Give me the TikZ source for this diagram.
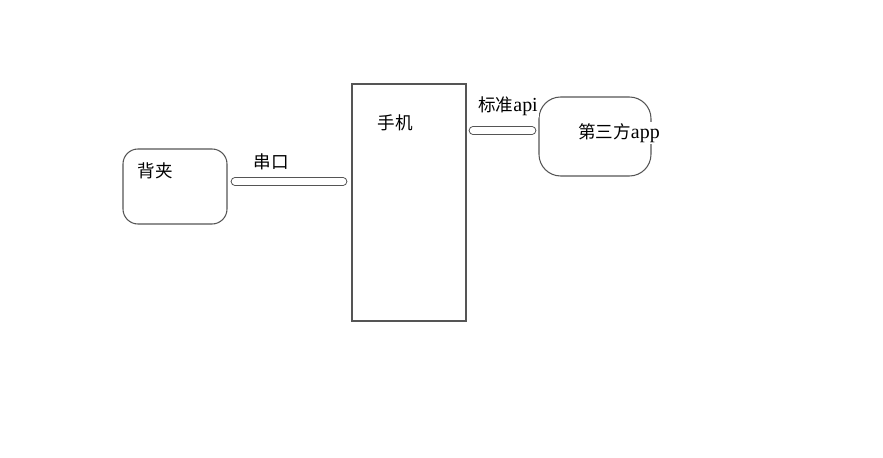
\documentclass[tikz,border=0pt]{standalone}
\usepackage{fontspec}
\setmainfont{Liberation Serif}
\newfontfamily\cjk{Noto Sans CJK SC}
\usepackage{tikz}
\usetikzlibrary{calc}
\definecolor{ink}{HTML}{555555}

\begin{document}
\begin{tikzpicture}[x=0.03cm,y=-0.03cm,
  box/.style={draw=ink,line width=0.9pt,fill=none,inner sep=0pt},
  lbl/.style={fill=white,inner sep=1pt,font=\fontsize{15}{17}\selectfont},
  link/.style={draw=ink,line width=0.9pt,double=white,double distance=0.2cm,line cap=round}
]
  \useasboundingbox (0,0) rectangle (883,458);
  \node[box,rounded corners=0.45cm,minimum width=3.12cm,minimum height=2.25cm] (beijia) at (175,186.5) {};
  \node[box,minimum width=3.42cm,minimum height=7.11cm] (phone) at (409,202.5) {};
  \node[box,rounded corners=0.65cm,minimum width=3.36cm,minimum height=2.37cm] (app) at (595,136.5) {};
  \draw[link] ($(beijia.east |- 0,181.5)+(7.5,0)$) -- ($(phone.west |- 0,181.5)+(-8.5,0)$);
  \draw[link] ($(phone.east |- 0,130.5)+(6.5,0)$) -- ($(app.west |- 0,130.5)+(-6.5,0)$);
  \node[lbl] (beijiaT) at (155,171) {\cjk 背夹};
  \node[lbl] (serial) at (271,162) {\cjk 串口};
  \node[lbl] (phoneT) at (395,123) {\cjk 手机};
  \node[lbl] (api) at (508,106) {{\cjk 标准}{\fontsize{17}{19}\selectfont api}};
  \node[lbl] (appT) at (619,133) {{\cjk 第三方}{\fontsize{17}{19}\selectfont app}};
\end{tikzpicture}
\end{document}
